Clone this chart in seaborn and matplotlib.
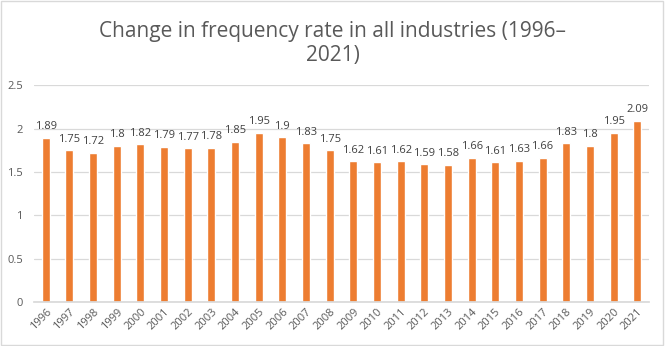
import matplotlib
matplotlib.use("Agg")
import matplotlib.pyplot as plt
import seaborn as sns
import pandas as pd

years = [str(y) for y in range(1996, 2022)]
values = [1.89, 1.75, 1.72, 1.8, 1.82, 1.79, 1.77, 1.78, 1.85, 1.95, 1.9, 1.83, 1.75,
          1.62, 1.61, 1.62, 1.59, 1.58, 1.66, 1.61, 1.63, 1.66, 1.83, 1.8, 1.95, 2.09]
labels = ["1.89", "1.75", "1.72", "1.8", "1.82", "1.79", "1.77", "1.78", "1.85", "1.95", "1.9",
          "1.83", "1.75", "1.62", "1.61", "1.62", "1.59", "1.58", "1.66", "1.61", "1.63", "1.66",
          "1.83", "1.8", "1.95", "2.09"]
title = "Change in frequency rate in all industries (1996\u2013\n2021)"

sns.set_theme(style="white")
plt.rcParams['font.family'] = ['Open Sans', 'DejaVu Sans']

df = pd.DataFrame({"year": years, "value": values})
fig = plt.figure(figsize=(6.65, 3.46), dpi=100)
ax = fig.add_axes([0.051, 0.127, 0.925, 0.627])
sns.barplot(data=df, x="year", y="value", color="#ED7D31", saturation=1, width=0.34, ax=ax)
ax.set_ylim(0, 2.5)
ax.set_yticks([0, 0.5, 1, 1.5, 2, 2.5])
ax.set_yticklabels(["0", "0.5", "1", "1.5", "2", "2.5"])
ax.set_xlim(-0.5, len(years) - 0.5)
ax.grid(axis="y", color="#D9D9D9", linewidth=0.9)
ax.set_axisbelow(True)
for s in ["top", "right", "left"]:
    ax.spines[s].set_visible(False)
ax.spines["bottom"].set_color("#D9D9D9")
ax.set_xlabel("")
ax.set_ylabel("")
ax.tick_params(axis="both", length=0, colors="#595959", labelsize=8)
ax.tick_params(axis="y", pad=8)
ax.tick_params(axis="x", pad=3)
plt.setp(ax.get_xticklabels(), rotation=45, ha="right", rotation_mode="anchor")
for i, (v, t) in enumerate(zip(values, labels)):
    ax.annotate(t, (i, v), xytext=(0, 4), textcoords="offset points", ha="center", va="bottom",
                fontsize=8, color="#404040")
fig.text(0.5, 0.94, title, ha="center", va="top", fontsize=15, color="#595959", linespacing=1.2)
fig.patches.append(plt.Rectangle((0.002, 0.003), 0.995, 0.994, transform=fig.transFigure,
                                 fill=False, edgecolor="#D9D9D9", linewidth=1))
fig.savefig("out.png", dpi=100)
